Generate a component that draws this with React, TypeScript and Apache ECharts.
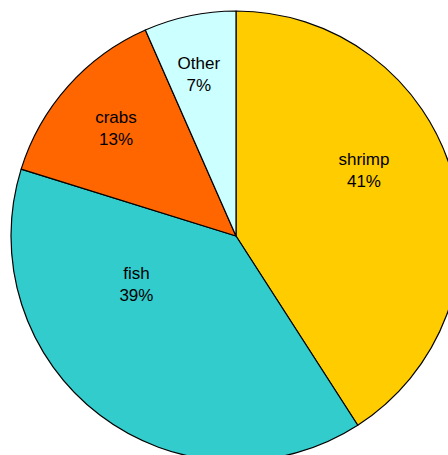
import React, { useEffect, useRef } from "react";
import * as echarts from "echarts";

const categories = ["shrimp", "fish", "crabs", "Other"];
const values = [40.9, 38.9, 13.6, 6.6];
const percentLabels = ["41%", "39%", "13%", "7%"];
const colors = ["#FFCC00", "#33CCCC", "#FF6600", "#CCFFFF"];

// label placement: angle (deg clockwise from top) and fraction of radius
const labelAngles = [62.7, 244.6, 312.2, 347.1];
const labelRadii = [0.64, 0.49, 0.72, 0.74];

const CX = 236;
const CY = 236;
const R = 225;

export default function App() {
  const ref = useRef<HTMLDivElement>(null);
  useEffect(() => {
    if (!ref.current) return;
    const chart = echarts.init(ref.current, null, { renderer: "svg" });
    chart.setOption({
      animation: false,
      backgroundColor: "#ffffff",
      series: [
        {
          type: "pie",
          center: [CX, CY],
          radius: [0, R],
          startAngle: 90,
          clockwise: true,
          avoidLabelOverlap: false,
          silent: true,
          itemStyle: { borderColor: "#000000", borderWidth: 1.2 },
          label: {
            show: true,
            position: "inside",
            color: "#000000",
            fontFamily: "Liberation Sans, Arial, sans-serif",
            fontSize: 17,
            lineHeight: 22,
            align: "center",
            verticalAlign: "middle",
            formatter: (p: any) => p.name + "\n" + percentLabels[p.dataIndex],
          },
          labelLine: { show: false },
          labelLayout: (params: any) => {
            const i = params.dataIndex;
            const a = (labelAngles[i] * Math.PI) / 180;
            const rr = labelRadii[i] * R;
            return {
              x: CX + Math.sin(a) * rr,
              y: CY - Math.cos(a) * rr + 1,
              align: "center",
              verticalAlign: "middle",
            };
          },
          data: categories.map((c, i) => ({
            name: c,
            value: values[i],
            itemStyle: { color: colors[i] },
          })),
        },
      ],
    });
    return () => chart.dispose();
  }, []);
  return (
    <div
      ref={ref}
      style={{ position: "fixed", left: 0, top: 0, width: 448, height: 455 }}
    />
  );
}
